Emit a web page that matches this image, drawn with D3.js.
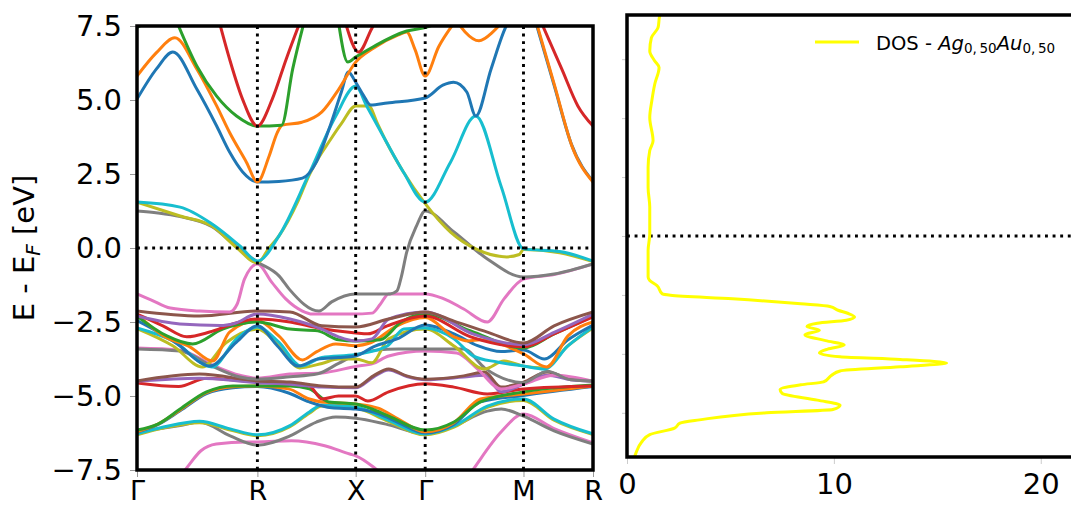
<!DOCTYPE html>
<html><head><meta charset="utf-8">
<script src="https://cdn.jsdelivr.net/npm/d3@7"></script>
<style>
body{margin:0;background:#fff}
svg{display:block;font-family:"DejaVu Sans",sans-serif}
</style>
</head><body>
<svg id="c" width="1071" height="509"></svg>
<script>
// ---------- data ----------
const kLabels = ["Γ","R","X","Γ","M","R"];
const kTicks = [0, 0.866, 1.573, 2.073, 2.780, 3.280];
const eTicks = [-7.5,-5.0,-2.5,0.0,2.5,5.0,7.5];
const dosTicks = [0,10,20];
const dosETicks = [-6,-4,-2,0,2,4,6];

// bands: [k, E-E_F]
const pinkLow = [[0.33,-7.6],[0.37,-7.35],[0.46,-6.85],[0.57,-6.62],[0.79,-6.55],[0.866,-6.55],[1.11,-6.51],[1.35,-6.68],[1.53,-6.96],[1.573,-7.02],[1.70,-7.4],[1.75,-7.6]];
const pinkLow2 = [[2.40,-7.6],[2.43,-7.4],[2.62,-6.21],[2.78,-5.61],[3.0,-6.1],[3.28,-6.58]];
const grayLow = [[0,-6.21],[0.31,-6.0],[0.45,-5.88],[0.67,-6.35],[0.866,-6.66],[1.10,-6.35],[1.29,-5.88],[1.43,-5.71],[1.573,-5.75],[1.79,-5.95],[2.073,-6.28],[2.28,-6.01],[2.52,-5.51],[2.62,-5.44],[2.78,-5.68],[3.0,-6.18],[3.28,-6.62]];
const oliveLow = [[0,-6.31],[0.19,-6.08],[0.45,-5.9],[0.67,-6.15],[0.866,-6.34],[1.10,-6.04],[1.24,-5.58],[1.33,-5.34],[1.573,-5.41],[1.79,-5.82],[2.073,-6.31],[2.28,-6.05],[2.52,-5.38],[2.78,-5.15],[3.0,-5.82],[3.28,-6.3]];
const cyanLow = [[0,-6.28],[0.19,-6.05],[0.45,-5.85],[0.67,-6.11],[0.866,-6.31],[1.10,-6.0],[1.24,-5.54],[1.33,-5.3],[1.573,-5.37],[1.79,-5.78],[2.073,-6.28],[2.28,-6.01],[2.52,-5.34],[2.78,-5.10],[3.0,-5.78],[3.28,-6.28]];
const blueLow = [[0,-6.22],[0.15,-5.97],[0.31,-5.5],[0.50,-4.92],[0.69,-4.72],[0.866,-4.68],[1.09,-4.9],[1.24,-5.2],[1.40,-5.4],[1.573,-5.44],[1.74,-5.6],[1.88,-5.9],[2.073,-6.25],[2.28,-5.95],[2.47,-5.2],[2.78,-4.98],[3.28,-4.68]];
const orangeLow = [[0,-6.2],[0.15,-5.95],[0.31,-5.47],[0.50,-4.89],[0.69,-4.69],[0.866,-4.66],[1.09,-4.76],[1.24,-5.10],[1.33,-5.2],[1.573,-5.27],[1.74,-5.42],[1.88,-5.78],[2.073,-6.21],[2.28,-5.9],[2.47,-5.1],[2.78,-4.93],[3.28,-4.66]];
const greenLow = [[0,-6.15],[0.15,-5.95],[0.31,-5.44],[0.50,-4.86],[0.69,-4.66],[0.866,-4.66],[1.10,-4.66],[1.24,-4.76],[1.38,-5.2],[1.573,-5.27],[1.69,-5.44],[1.81,-5.68],[2.073,-6.15],[2.28,-5.88],[2.47,-5.2],[2.78,-4.86],[3.28,-4.63]];
const redLow = [[0,-4.56],[0.30,-4.68],[0.50,-4.4],[0.866,-4.53],[1.10,-4.59],[1.24,-4.66],[1.33,-5.10],[1.45,-5.0],[1.573,-5.0],[1.66,-5.17],[1.81,-4.86],[2.073,-4.59],[2.28,-4.7],[2.52,-4.93],[2.78,-4.76],[3.28,-4.66]];
const purpleLow = [[0,-4.5],[0.45,-4.4],[0.866,-4.55],[1.10,-4.6],[1.33,-4.7],[1.573,-4.72],[1.70,-4.36],[1.81,-4.12],[1.94,-4.34],[2.073,-4.45],[2.35,-4.36],[2.50,-4.3],[2.62,-4.86],[2.78,-4.6],[2.95,-4.3],[3.12,-4.45],[3.28,-4.5]];
const brownLow = [[0,-4.49],[0.45,-4.26],[0.866,-4.49],[1.10,-4.53],[1.33,-4.66],[1.573,-4.70],[1.70,-4.32],[1.81,-4.09],[1.94,-4.32],[2.073,-4.43],[2.35,-4.32],[2.50,-4.19],[2.62,-4.7],[2.78,-4.53],[2.95,-4.19],[3.12,-4.43],[3.28,-4.49]];
const pinkMid = [[0,-3.38],[0.31,-3.45],[0.54,-3.95],[0.74,-4.3],[0.866,-4.4],[1.10,-4.26],[1.33,-4.22],[1.573,-4.0],[1.70,-3.9],[1.81,-3.65],[2.073,-3.48],[2.30,-3.55],[2.45,-4.09],[2.62,-4.76],[2.78,-4.6],[3.0,-4.3],[3.28,-4.5]];
const grayMid = [[0,-3.41],[0.31,-3.48],[0.54,-3.99],[0.74,-4.36],[0.866,-4.43],[1.10,-4.35],[1.30,-4.25],[1.45,-3.9],[1.573,-3.62],[1.72,-3.45],[1.88,-3.41],[2.073,-3.41],[2.35,-3.41],[2.50,-4.05],[2.78,-4.55],[2.95,-4.16],[3.12,-4.45],[3.28,-4.49]];
const oliveUp = [[0,-2.72],[0.26,-3.31],[0.47,-4.02],[0.64,-3.2],[0.866,-2.74],[1.02,-3.3],[1.17,-4.05],[1.33,-3.9],[1.45,-3.75],[1.573,-3.75],[1.69,-3.88],[1.81,-3.07],[2.073,-2.74],[2.28,-3.31],[2.50,-4.09],[2.64,-3.82],[2.78,-3.99],[2.93,-4.05],[3.10,-3.3],[3.28,-2.7]];
const cyanUp = [[0,-2.70],[0.26,-3.14],[0.54,-4.02],[0.716,-3.07],[0.866,-2.67],[1.02,-3.18],[1.18,-3.99],[1.33,-3.7],[1.573,-3.6],[1.80,-3.31],[1.92,-2.74],[2.073,-2.70],[2.28,-3.07],[2.42,-3.65],[2.59,-3.85],[2.78,-3.99],[2.93,-4.09],[3.10,-3.31],[3.28,-2.67]];
const blueUp = [[0,-2.45],[0.31,-3.31],[0.45,-3.85],[0.52,-3.99],[0.716,-3.18],[0.866,-2.63],[1.01,-3.31],[1.16,-3.99],[1.30,-3.75],[1.45,-3.7],[1.573,-3.65],[1.70,-3.34],[1.87,-3.07],[2.073,-2.6],[2.28,-2.9],[2.45,-3.3],[2.62,-3.5],[2.78,-3.45],[2.93,-3.75],[3.10,-3.1],[3.28,-2.6]];
const orangeUp = [[0,-2.23],[0.19,-2.97],[0.38,-3.34],[0.544,-3.82],[0.666,-2.84],[0.866,-2.45],[1.02,-2.97],[1.19,-3.78],[1.29,-3.51],[1.43,-3.24],[1.573,-3.3],[1.68,-3.2],[1.87,-2.63],[2.073,-2.35],[2.28,-3.0],[2.38,-3.14],[2.47,-3.1],[2.57,-3.18],[2.78,-3.58],[2.947,-4.02],[3.10,-2.97],[3.28,-2.5]];
const greenUp = [[0,-2.3],[0.215,-2.97],[0.40,-3.24],[0.616,-2.74],[0.866,-2.50],[1.10,-2.74],[1.30,-2.8],[1.45,-3.1],[1.573,-3.14],[1.75,-3.1],[1.90,-2.5],[2.073,-2.23],[2.40,-2.8],[2.78,-3.38],[3.0,-2.9],[3.28,-2.3]];
const redUp = [[0,-2.23],[0.186,-2.63],[0.358,-3.0],[0.522,-2.84],[0.70,-2.55],[0.866,-2.40],[1.10,-2.5],[1.30,-2.7],[1.573,-2.87],[1.66,-2.9],[1.80,-2.63],[2.073,-2.30],[2.40,-3.0],[2.78,-3.34],[3.0,-2.9],[3.28,-2.33]];
const purpleUp = [[0,-2.3],[0.308,-2.57],[0.60,-2.62],[0.70,-2.55],[0.866,-2.23],[1.10,-2.40],[1.33,-2.74],[1.45,-3.0],[1.573,-3.14],[1.69,-3.07],[1.81,-2.40],[2.073,-2.16],[2.42,-2.91],[2.78,-3.27],[3.0,-2.85],[3.28,-2.23]];
const brownUp = [[0,-2.13],[0.45,-2.30],[0.866,-2.13],[1.10,-2.16],[1.33,-2.63],[1.573,-2.67],[1.81,-2.40],[2.073,-2.16],[2.28,-2.47],[2.52,-2.84],[2.78,-3.21],[3.0,-2.63],[3.28,-2.16]];
const pinkUp = [[0,-1.55],[0.10,-1.75],[0.24,-2.03],[0.45,-2.13],[0.666,-2.16],[0.72,-1.9],[0.773,-1.05],[0.866,-0.54],[0.97,-1.16],[1.07,-1.72],[1.19,-2.13],[1.26,-2.23],[1.55,-2.23],[1.69,-2.2],[1.75,-1.9],[1.81,-1.55],[2.073,-1.55],[2.20,-1.7],[2.35,-2.06],[2.52,-2.5],[2.64,-1.72],[2.78,-1.05],[3.0,-0.9],[3.28,-0.54]];
const grayUp = [[0,1.25],[0.15,1.18],[0.31,1.06],[0.54,0.72],[0.72,0.03],[0.866,-0.47],[1.023,-0.95],[1.095,-1.39],[1.309,-2.13],[1.40,-1.82],[1.573,-1.55],[1.82,-1.55],[1.87,-1.45],[1.90,-1.0],[1.94,-0.14],[2.01,0.74],[2.073,1.25],[2.28,0.54],[2.52,-0.37],[2.78,-0.98],[3.0,-0.88],[3.28,-0.54]];
const oliveS = [[0,1.55],[0.31,1.08],[0.54,0.74],[0.72,0.0],[0.866,-0.5],[0.95,0.0],[1.02,0.4],[1.16,1.6],[1.237,2.45],[1.30,3.0],[1.38,3.58],[1.47,4.2],[1.573,4.8],[1.666,4.8],[1.73,4.2],[1.794,3.58],[1.916,2.57],[2.073,1.5],[2.255,0.54],[2.437,-0.03],[2.66,-0.3],[2.75,-0.22],[2.78,-0.05],[3.04,-0.16],[3.28,-0.46]];
const cyanS = [[0,1.55],[0.31,1.38],[0.54,0.81],[0.74,0.07],[0.866,-0.44],[1.02,0.4],[1.237,2.5],[1.43,4.46],[1.573,5.47],[1.652,4.8],[1.794,3.58],[1.916,2.57],[2.073,1.55],[2.255,2.9],[2.437,4.46],[2.62,2.07],[2.78,-0.03],[3.04,-0.12],[3.28,-0.44]];
const blueS = [[0,5.03],[0.14,6.05],[0.258,6.62],[0.43,5.37],[0.573,4.12],[0.666,3.24],[0.76,2.57],[0.866,2.23],[1.02,2.25],[1.19,2.36],[1.29,2.9],[1.38,4.0],[1.47,5.27],[1.52,5.95],[1.573,5.6],[1.63,5.15],[1.68,4.83],[1.80,4.9],[2.073,5.07],[2.20,5.5],[2.277,5.6],[2.372,5.27],[2.437,4.46],[2.547,6.05],[2.656,7.5],[2.68,7.7]];
const blueS2 = [[2.87,7.6],[3.0,5.5],[3.125,3.5],[3.28,2.25]];
const orangeS = [[0,5.81],[0.14,6.6],[0.272,7.1],[0.43,6.05],[0.573,4.8],[0.666,3.9],[0.787,2.9],[0.866,2.23],[0.95,3.1],[1.009,3.9],[1.045,4.15],[1.187,4.25],[1.33,4.6],[1.452,5.37],[1.573,6.28],[1.70,6.75],[1.88,7.2],[1.94,7.3],[2.0,6.7],[2.073,5.81],[2.17,6.8],[2.28,7.6]];
const orangeS2 = [[2.31,7.6],[2.36,7.3],[2.46,7.0],[2.56,7.3],[2.62,7.6]];
const orangeS3 = [[2.874,7.6],[3.005,5.47],[3.128,3.45],[3.28,2.23]];
const greenS0 = [[0,7.45],[0.06,7.6]];
const greenS = [[0.29,7.6],[0.43,6.15],[0.573,5.13],[0.716,4.46],[0.866,4.12],[1.04,4.15],[1.12,6.05],[1.20,7.6]];
const greenSX = [[1.45,7.6],[1.516,6.28],[1.573,6.45],[1.70,6.8],[1.94,7.33],[2.073,7.45],[2.17,7.6]];
const redS = [[0.594,7.6],[0.666,6.38],[0.759,5.03],[0.866,4.12],[0.973,5.03],[1.073,6.38],[1.17,7.6]];
const redSX = [[1.50,7.6],[1.594,6.62],[1.687,7.4],[1.71,7.6]];
const redS2 = [[2.91,7.6],[3.055,6.05],[3.171,4.8],[3.28,4.12]];

// DOS (energy, states)
const dosEnergy = [7.5,7.47,7.07,6.73,6.28,5.94,5.72,5.15,4.59,4.02,3.23,2.90,2.33,1.65,0.98,0.07,-0.49,-1.39,-1.51,-1.68,-1.96,-2.01,-2.13,-2.30,-2.39,-2.52,-2.63,-2.75,-2.86,-2.96,-3.07,-3.20,-3.35,-3.55,-3.70,-3.84,-3.97,-4.10,-4.19,-4.31,-4.44,-4.58,-4.72,-4.95,-5.05,-5.21,-5.34,-5.57,-5.74,-5.89,-6.00,-6.24,-6.35,-6.52,-6.74,-7.00,-7.37,-7.5];
const dosValue  = [1.6,1.58,1.50,1.18,1.10,1.34,1.55,1.34,1.20,1.10,1.26,1.10,1.02,1.02,1.10,1.10,1.02,1.02,1.10,1.45,1.70,2.10,5.1,8.4,9.8,10.2,10.7,11.0,10.6,9.2,8.7,9.3,8.6,9.6,10.5,9.7,9.3,10.3,13.2,15.45,13.2,10.3,9.9,9.5,8.4,7.4,7.5,9.2,10.3,9.95,6.75,3.5,2.56,2.3,1.1,0.7,0.43,0.36];

// ---------- drawing ----------
const tab = {blue:"#1f77b4",orange:"#ff7f0e",green:"#2ca02c",red:"#d62728",purple:"#9467bd",
  brown:"#8c564b",pink:"#e377c2",gray:"#7f7f7f",olive:"#bcbd22",cyan:"#17becf"};
const series = [
  [pinkLow,"pink"],[pinkLow2,"pink"],[grayLow,"gray"],[oliveLow,"olive"],[cyanLow,"cyan"],
  [blueLow,"blue"],[orangeLow,"orange"],[greenLow,"green"],[redLow,"red"],[purpleLow,"purple"],
  [brownLow,"brown"],[pinkMid,"pink"],[grayMid,"gray"],[oliveUp,"olive"],[cyanUp,"cyan"],
  [blueUp,"blue"],[orangeUp,"orange"],[greenUp,"green"],[redUp,"red"],[purpleUp,"purple"],
  [brownUp,"brown"],[pinkUp,"pink"],[grayUp,"gray"],[oliveS,"olive"],[cyanS,"cyan"],
  [blueS,"blue"],[blueS2,"blue"],[orangeS,"orange"],[orangeS2,"orange"],[orangeS3,"orange"],
  [greenS0,"green"],[greenS,"green"],[greenSX,"green"],[redS,"red"],[redSX,"red"],[redS2,"red"]
];

const svg = d3.select("#c");
const FS = 29;
const L = {x0:137, x1:593, y0:26, y1:470};
const R = {x0:627, x1:1078, y0:15, y1:457};

const kx = d3.scaleLinear().domain([0, 3.28]).range([L.x0, L.x1]);
const ey = d3.scaleLinear().domain([-7.5, 7.5]).range([L.y1, L.y0]);
const dx = d3.scaleLinear().domain([0, 21.8]).range([R.x0, R.x1]);
const dy = d3.scaleLinear().domain([-7.5, 7.5]).range([R.y1, R.y0]);

const defs = svg.append("defs");
defs.append("clipPath").attr("id","clipL").append("rect")
  .attr("x",L.x0).attr("y",L.y0).attr("width",L.x1-L.x0).attr("height",L.y1-L.y0);
defs.append("clipPath").attr("id","clipR").append("rect")
  .attr("x",R.x0).attr("y",R.y0).attr("width",R.x1-R.x0).attr("height",R.y1-R.y0);

// left bands
const gb = svg.append("g").attr("clip-path","url(#clipL)");
const bandLine = d3.line().x(d=>kx(d[0])).y(d=>ey(d[1])).curve(d3.curveMonotoneX);
series.forEach(([pts,c])=>{
  gb.append("path").attr("d",bandLine(pts)).attr("fill","none")
    .attr("stroke",tab[c]).attr("stroke-width",3).attr("stroke-linejoin","round").attr("stroke-linecap","round");
});
// dotted guides
const dots = {stroke:"#000","stroke-width":2.9,"stroke-dasharray":"2.9 4.7"};
function dotted(g,x1,y1,x2,y2){const l=g.append("line").attr("x1",x1).attr("y1",y1).attr("x2",x2).attr("y2",y2);Object.entries(dots).forEach(([k,v])=>l.attr(k,v));}
kTicks.slice(1,-1).forEach(k=>dotted(gb,kx(k),L.y0,kx(k),L.y1));
dotted(gb,L.x0,ey(0),L.x1,ey(0));

// left axes
const axY = svg.append("g").attr("transform",`translate(${L.x0},0)`)
  .call(d3.axisLeft(ey).tickValues(eTicks).tickSize(7).tickPadding(8).tickFormat(d3.format(".1f")));
const axX = svg.append("g").attr("transform",`translate(0,${L.y1})`)
  .call(d3.axisBottom(kx).tickValues(kTicks).tickSize(7).tickPadding(4).tickFormat((d,i)=>kLabels[i]));
[axY,axX].forEach(a=>{
  a.select(".domain").remove();
  a.selectAll(".tick line").attr("stroke","#999").attr("stroke-width",1);
  a.selectAll("text").attr("font-size",FS).attr("font-family","DejaVu Sans").attr("fill","#000");
});
axX.selectAll("text").attr("font-size",27);
svg.append("rect").attr("x",L.x0).attr("y",L.y0).attr("width",L.x1-L.x0).attr("height",L.y1-L.y0)
  .attr("fill","none").attr("stroke","#000").attr("stroke-width",3.5);

// y label
const yl = svg.append("text").attr("transform",`translate(34,${(L.y0+L.y1)/2}) rotate(-90)`)
  .attr("text-anchor","middle").attr("font-size",FS);
yl.append("tspan").text("E - E");
yl.append("tspan").attr("font-size",20).attr("font-style","italic").attr("dy",6).text("F");
yl.append("tspan").attr("dy",-6).text(" [eV]");

// right DOS
const gd = svg.append("g").attr("clip-path","url(#clipR)");
dotted(gd,R.x0,dy(0),R.x1,dy(0));
const dosPts = dosEnergy.map((e,i)=>[dosValue[i],e]);
gd.append("path").attr("d",d3.line().x(d=>dx(d[0])).y(d=>dy(d[1])).curve(d3.curveMonotoneY)(dosPts))
  .attr("fill","none").attr("stroke","#ffff00").attr("stroke-width",3).attr("stroke-linejoin","round");

const axDY = svg.append("g").attr("transform",`translate(${R.x0},0)`)
  .call(d3.axisLeft(dy).tickValues(dosETicks).tickSize(5).tickFormat(""));
const axDX = svg.append("g").attr("transform",`translate(0,${R.y1})`)
  .call(d3.axisBottom(dx).tickValues(dosTicks).tickSize(7).tickPadding(9).tickFormat(d3.format("d")));
[axDY,axDX].forEach(a=>{
  a.select(".domain").remove();
  a.selectAll(".tick line").attr("stroke","#ccc").attr("stroke-width",1);
  a.selectAll("text").attr("font-size",FS).attr("font-family","DejaVu Sans").attr("fill","#000");
});
svg.append("rect").attr("x",R.x0).attr("y",R.y0).attr("width",R.x1-R.x0).attr("height",R.y1-R.y0)
  .attr("fill","none").attr("stroke","#000").attr("stroke-width",3.5);

// legend
svg.append("line").attr("x1",815).attr("x2",859).attr("y1",42).attr("y2",42)
  .attr("stroke","#ffff00").attr("stroke-width",3);
const lt = svg.append("text").attr("x",876).attr("y",50).attr("font-size",19.5).attr("fill","#000");
lt.append("tspan").text("DOS - ");
lt.append("tspan").attr("font-style","italic").text("Ag");
lt.append("tspan").attr("font-size",13.5).attr("dy",3).text("0,\u200950");
lt.append("tspan").attr("font-style","italic").attr("dy",-3).text("Au");
lt.append("tspan").attr("font-size",13.5).attr("dy",3).text("0,\u200950");
</script>
</body></html>
